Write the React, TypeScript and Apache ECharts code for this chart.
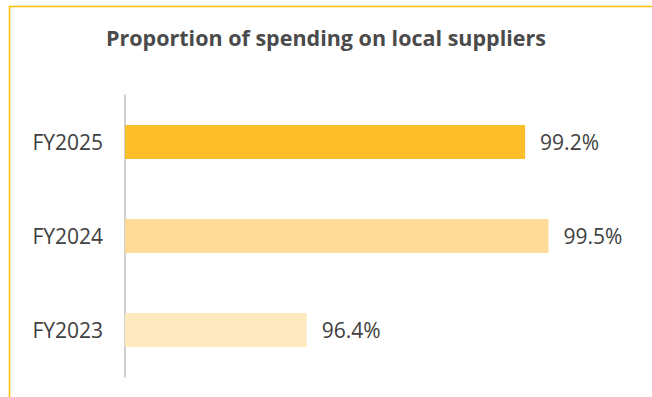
import React, { useEffect, useRef } from "react";
import * as echarts from "echarts";

const categories = ["FY2023", "FY2024", "FY2025"];
const values = [96.4, 99.5, 99.2];
const barColors = ["#FEE9C0", "#FEDB98", "#FCBF2A"];
const titleText = "Proportion of spending on local suppliers";

export default function App() {
  const ref = useRef<HTMLDivElement>(null);
  useEffect(() => {
    if (!ref.current) return;
    const chart = echarts.init(ref.current, undefined, { renderer: "svg" });
    chart.setOption({
      animation: false,
      backgroundColor: "#ffffff",
      title: {
        text: titleText,
        left: "center",
        top: 21,
        textStyle: {
          fontFamily: "Open Sans",
          fontWeight: "bold",
          fontSize: 21.5,
          color: "#4a4a4a",
        },
      },
      graphic: [
        {
          type: "line",
          shape: { x1: 9, y1: 6.5, x2: 652, y2: 6.5 },
          style: { stroke: "#FFC000", lineWidth: 1.5 },
        },
        {
          type: "line",
          shape: { x1: 9.5, y1: 6, x2: 9.5, y2: 397 },
          style: { stroke: "#FFC000", lineWidth: 1.5 },
        },
      ],
      grid: { left: 125, right: 64.5, top: 95, bottom: 20, containLabel: false },
      xAxis: {
        type: "value",
        min: 94.07,
        max: 100,
        show: false,
      },
      yAxis: {
        type: "category",
        data: categories,
        axisLine: { show: true, lineStyle: { color: "#BFBFBF", width: 1.5 } },
        axisTick: { show: false },
        axisLabel: {
          margin: 22,
          fontFamily: "Open Sans",
          fontSize: 21,
          color: "#404040",
        },
      },
      series: [
        {
          type: "bar",
          barWidth: 34,
          data: values.map((v, i) => ({ value: v, itemStyle: { color: barColors[i] } })),
          label: {
            show: true,
            position: "right",
            distance: 15,
            formatter: (p: any) => p.value.toFixed(1) + "%",
            fontFamily: "Open Sans",
            fontSize: 21,
            color: "#404040",
          },
        },
      ],
    });
    return () => chart.dispose();
  }, []);
  return (
    <div
      ref={ref}
      style={{ position: "absolute", left: 0, top: 0, width: 652, height: 397 }}
    />
  );
}
